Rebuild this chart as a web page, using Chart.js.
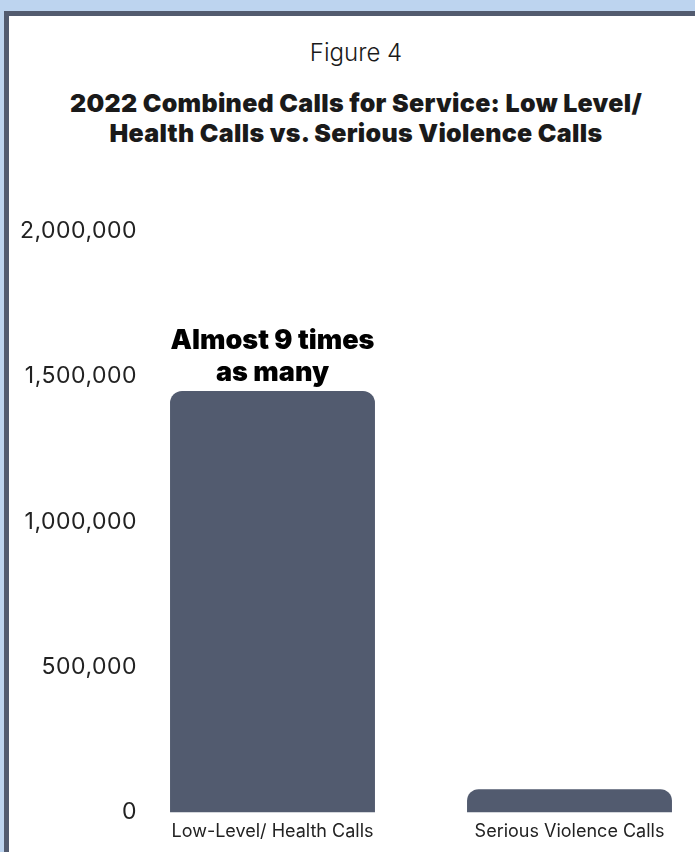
<!DOCTYPE html>
<html>
<head>
<meta charset="utf-8">
<script src="https://cdn.jsdelivr.net/npm/chart.js@4.4.1/dist/chart.umd.min.js"></script>
<style>
    body { margin: 0; width: 695px; height: 852px; overflow: hidden; background: #bdd4ef; position: relative; font-family: Inter, "Noto Sans", sans-serif; }
    .frame { position: absolute; left: 4px; top: 11px; width: 760px; height: 900px; background: #525b6f; }
    .panel { position: absolute; left: 9px; top: 16px; width: 760px; height: 900px; background: #fff; }
    .head { position: absolute; left: 9px; width: 694px; text-align: center; color: #1a1a1a; }
    #fig { top: 38px; font-size: 24px; font-weight: 300; line-height: 30px; }
    #ttl { top: 88px; font-size: 25px; font-weight: 900; line-height: 30px; letter-spacing: 0.3px; }
    .chart-box { position: absolute; left: 9px; top: 200px; width: 720px; height: 652px; }
</style>
</head>
<body>
    <div class="frame"></div>
    <div class="panel"></div>
    <div class="head" id="fig">Figure 4</div>
    <div class="head" id="ttl">2022 Combined Calls for Service: Low Level/<br>Health Calls vs. Serious Violence Calls</div>
    <div class="chart-box">
        <canvas id="callsChart"></canvas>
    </div>
<script>
    var categories = ['Low-Level/ Health Calls', 'Serious Violence Calls'];
    var callCounts = [1450000, 80000];
    var yMin = 0, yMax = 2000000, yStep = 500000;
    var noteLines = ['Almost 9 times', 'as many'];

    // text above the first bar, placed from the bar element
    var noteOnBar = {
        id: 'noteOnBar',
        afterDatasetsDraw: function(chart) {
            var bar = chart.getDatasetMeta(0).data[0];
            var ctx = chart.ctx;
            ctx.save();
            ctx.fillStyle = '#000';
            ctx.font = '900 27px Inter, sans-serif';
            ctx.textAlign = 'center';
            ctx.textBaseline = 'middle';
            ctx.fillText(noteLines[0], bar.x, bar.y - 50);
            ctx.fillText(noteLines[1], bar.x, bar.y - 18);
            ctx.restore();
        }
    };

    // y labels sit partly over the plot area in the original, so draw them here
    var yLabels = {
        id: 'yLabels',
        afterDraw: function(chart) {
            var y = chart.scales.y;
            var ctx = chart.ctx;
            ctx.save();
            ctx.fillStyle = '#222';
            ctx.font = '400 23px Inter, sans-serif';
            ctx.letterSpacing = '0.5px';
            ctx.textAlign = 'right';
            ctx.textBaseline = 'middle';
            y.ticks.forEach(function(t) {
                ctx.fillText(t.value.toLocaleString('en-US'), 128, y.getPixelForValue(t.value));
            });
            ctx.restore();
        }
    };

    var callsChart = new Chart(document.getElementById('callsChart'), {
        type: 'bar',
        data: {
            labels: categories,
            datasets: [{
                data: callCounts,
                backgroundColor: '#525b6f',
                borderRadius: { topLeft: 12, topRight: 12 },
                borderSkipped: 'bottom',
                barPercentage: 0.69,
                categoryPercentage: 1
            }]
        },
        options: {
            responsive: true,
            maintainAspectRatio: false,
            animation: false,
            layout: { padding: { top: 31, left: 115, right: 11, bottom: 2 } },
            plugins: {
                legend: { display: false },
                tooltip: { enabled: false }
            },
            scales: {
                x: {
                    grid: { display: false, drawTicks: false },
                    border: { display: false },
                    ticks: { color: '#222', font: { family: 'Inter', size: 18 }, padding: 8 }
                },
                y: {
                    min: yMin,
                    max: yMax,
                    grid: { display: false, drawTicks: false },
                    border: { display: false },
                    ticks: { stepSize: yStep, display: false },
                    afterFit: function(s) { s.width = 0; }
                }
            }
        },
        plugins: [noteOnBar, yLabels]
    });
</script>
</body>
</html>
